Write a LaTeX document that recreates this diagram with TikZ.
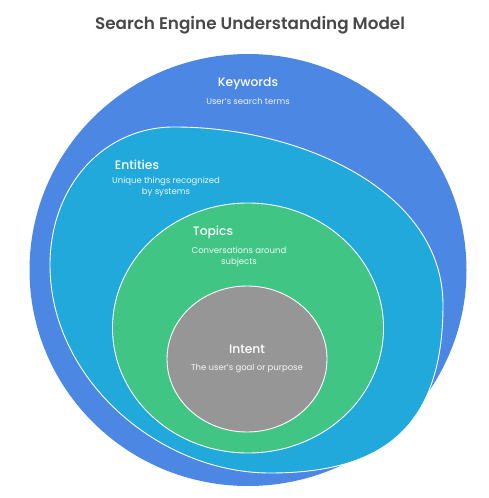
\documentclass[tikz,border=0pt]{standalone}
\usepackage{fontspec}
\setmainfont{Poppins}
\newfontfamily\titlefont{Poppins SemiBold}
\newfontfamily\labelfont{Poppins Medium}
\usepackage{tikz}
\usetikzlibrary{shapes.geometric, positioning}
\definecolor{TitleGray}{RGB}{72, 72, 72}
\definecolor{KeyBlue}{RGB}{75, 135, 227}
\definecolor{EntCyan}{RGB}{32, 169, 218}
\definecolor{TopGreen}{RGB}{64, 197, 132}
\definecolor{IntGray}{RGB}{150, 150, 150}

\begin{document}
\begin{tikzpicture}[
    x=1pt, y=-1pt,
    layer/.style={ellipse, draw=white, line width=0.9pt, inner sep=0pt},
    head/.style={text=white, font=\labelfont\fontsize{12.3}{14}\selectfont},
    sub/.style={text=white, opacity=0.92, align=center, font=\fontsize{8.5}{10.5}\selectfont}
  ]
    \useasboundingbox (0,0) rectangle (489,498);

    % Title
    \node[text=TitleGray, font=\titlefont\fontsize{16.8}{20}\selectfont] (title) at (250,25) {Search Engine Understanding Model};

    % Keywords (outer)
    \node[layer, draw=none, fill=KeyBlue, minimum width=437pt, minimum height=432pt] (kw) at (248,270) {};

    % Entities (irregular)
    \filldraw[fill=EntCyan, draw=white, line width=0.9pt]
      (178,127) .. controls (300,128) and (443,190) .. (443,305)
      .. controls (443,430) and (380,473) .. (270,473)
      .. controls (160,473) and (50,380) .. (50,265)
      .. controls (50,185) and (105,125) .. cycle;

    % Topics
    \node[layer, fill=TopGreen, minimum width=271pt, minimum height=250pt] (tp) at (248,328) {};

    % Intent
    \node[layer, fill=IntGray, minimum width=160pt, minimum height=146pt] (it) at (247,359) {};

    % Labels
    \node[head] (kwh) at (248,84) {Keywords};
    \node[sub] (kws) at (248,101) {User's search terms};
    \node[head] (enh) at (137,165) {Entities};
    \node[sub] (ens) at (166,187) {Unique things recognized\\by systems};
    \node[head] (tph) at (213,232) {Topics};
    \node[sub] (tps) at (239,257) {Conversations around\\subjects};
    \node[head] (ith) at (247,349) {Intent};
    \node[sub] (its) at (247,368) {The user's goal or purpose};
  \end{tikzpicture}
\end{document}
